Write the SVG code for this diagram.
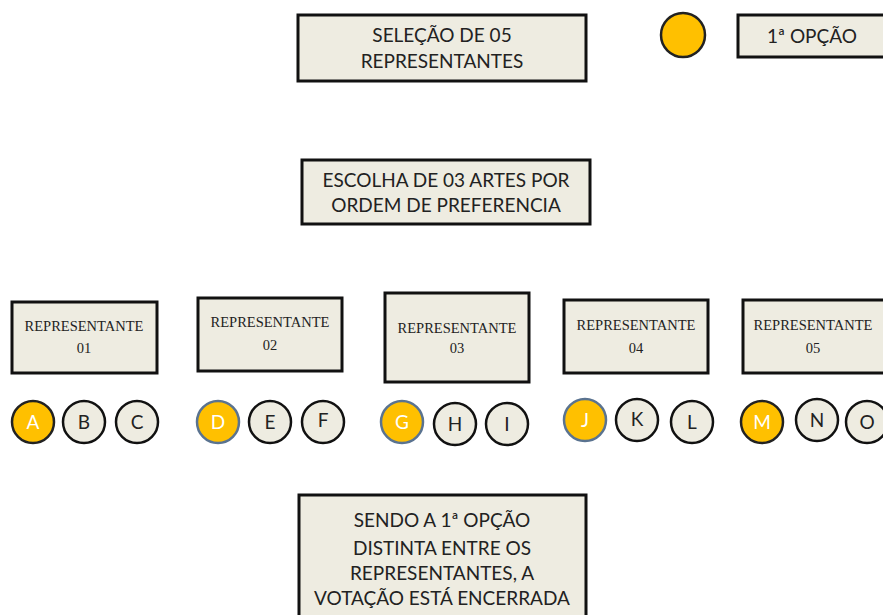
<svg xmlns="http://www.w3.org/2000/svg" width="883" height="615" viewBox="0 0 883 615">
<style>
.box{fill:#EEECE1;stroke:#111;stroke-width:3}
.big{font-family:Lato,"Open Sans","Liberation Sans",sans-serif;font-size:19px;fill:#222;text-anchor:middle}
.rep{font-family:"Liberation Serif","DejaVu Serif",serif;font-size:14.5px;fill:#222;text-anchor:middle}
.opt{fill:#EEECE1;stroke:#111;stroke-width:2.5}
.sel{fill:#FFC000;stroke:#222;stroke-width:2.5}
.selb{fill:#FFC000;stroke:#5a7390;stroke-width:2.5}
.lt{font-family:Lato,"Open Sans","Liberation Sans",sans-serif;font-size:19px;fill:#222;text-anchor:middle}
.lw{font-family:Lato,"Open Sans","Liberation Sans",sans-serif;font-size:19px;fill:#fff;text-anchor:middle}
</style>
<rect width="883" height="615" fill="#fff"/>
<g id="selecao">
<rect class="box" x="298" y="15" width="288" height="66"/>
<text class="big" x="442" y="42">SELEÇÃO DE 05</text>
<text class="big" x="442" y="68">REPRESENTANTES</text>
</g>
<g id="legenda-circulo"><circle class="sel" cx="683" cy="35" r="22"/></g>
<g id="legenda">
<rect class="box" x="738" y="15" width="150" height="42"/>
<text class="big" x="812" y="43">1ª OPÇÃO</text>
</g>
<g id="escolha">
<rect class="box" x="302" y="160" width="288" height="64"/>
<text class="big" x="446" y="187">ESCOLHA DE 03 ARTES POR</text>
<text class="big" x="446" y="212">ORDEM DE PREFERENCIA</text>
</g>
<g id="rep01">
<rect class="box" x="12" y="302" width="145" height="71"/>
<text class="rep" x="84" y="331">REPRESENTANTE</text>
<text class="rep" x="84" y="353">01</text>
</g>
<g id="rep02">
<rect class="box" x="198" y="298" width="144" height="73"/>
<text class="rep" x="270" y="327">REPRESENTANTE</text>
<text class="rep" x="270" y="350">02</text>
</g>
<g id="rep03">
<rect class="box" x="385" y="293" width="144" height="89"/>
<text class="rep" x="457" y="333">REPRESENTANTE</text>
<text class="rep" x="457" y="353">03</text>
</g>
<g id="rep04">
<rect class="box" x="564" y="300" width="144" height="73"/>
<text class="rep" x="636" y="330">REPRESENTANTE</text>
<text class="rep" x="636" y="353">04</text>
</g>
<g id="rep05">
<rect class="box" x="743" y="300" width="150" height="73"/>
<text class="rep" x="813" y="330">REPRESENTANTE</text>
<text class="rep" x="813" y="353">05</text>
</g>
<g id="opcoes">
<g id="A"><circle class="sel" cx="33" cy="422" r="21"/><text class="lw" x="33" y="429">A</text></g>
<g id="B"><circle class="opt" cx="84" cy="422" r="21"/><text class="lt" x="84" y="429">B</text></g>
<g id="C"><circle class="opt" cx="137" cy="422" r="21"/><text class="lt" x="137" y="429">C</text></g>
<g id="D"><circle class="selb" cx="218" cy="422" r="21"/><text class="lw" x="218" y="429">D</text></g>
<g id="E"><circle class="opt" cx="270" cy="422" r="21"/><text class="lt" x="270" y="429">E</text></g>
<g id="F"><circle class="opt" cx="323" cy="422" r="21"/><text class="lt" x="323" y="427">F</text></g>
<g id="G"><circle class="selb" cx="402" cy="422" r="21"/><text class="lw" x="402" y="429">G</text></g>
<g id="H"><circle class="opt" cx="455" cy="424" r="21"/><text class="lt" x="455" y="431">H</text></g>
<g id="I"><circle class="opt" cx="507" cy="424" r="21"/><text class="lt" x="507" y="431">I</text></g>
<g id="J"><circle class="selb" cx="585" cy="420" r="21"/><text class="lw" x="585" y="427">J</text></g>
<g id="K"><circle class="opt" cx="637" cy="420" r="21"/><text class="lt" x="637" y="426">K</text></g>
<g id="L"><circle class="opt" cx="692" cy="422" r="21"/><text class="lt" x="692" y="429">L</text></g>
<g id="M"><circle class="sel" cx="762" cy="422" r="21"/><text class="lw" x="762" y="429">M</text></g>
<g id="N"><circle class="opt" cx="817" cy="420" r="21"/><text class="lt" x="817" y="427">N</text></g>
<g id="O"><circle class="opt" cx="867" cy="422" r="21"/><text class="lt" x="867" y="429">O</text></g>
</g>
<g id="conclusao">
<rect class="box" x="299" y="495" width="287" height="130"/>
<text class="big" x="442" y="527">SENDO A 1ª OPÇÃO</text>
<text class="big" x="442" y="555">DISTINTA ENTRE OS</text>
<text class="big" x="442" y="580">REPRESENTANTES, A</text>
<text class="big" x="442" y="605">VOTAÇÃO ESTÁ ENCERRADA</text>
</g>
<g id="conectores"></g>
</svg>
